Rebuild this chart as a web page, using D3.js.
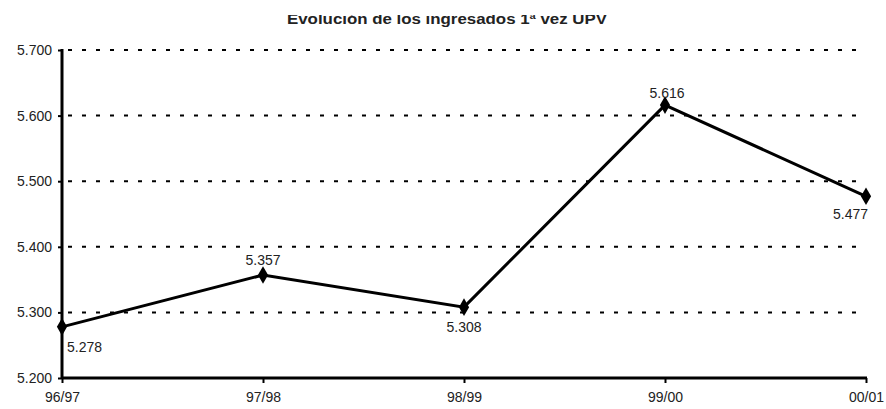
<!DOCTYPE html>
<html><head><meta charset="utf-8">
<script src="https://cdn.jsdelivr.net/npm/d3@7"></script>
<style>body{margin:0;background:#fff}svg{display:block}</style>
</head><body>
<script>
const categories = ["96/97","97/98","98/99","99/00","00/01"];
const values = [5.278, 5.357, 5.308, 5.616, 5.477];
const valueLabels = ["5.278","5.357","5.308","5.616","5.477"];
const yTicks = [5.2, 5.3, 5.4, 5.5, 5.6, 5.7];
const yTickLabels = ["5.200","5.300","5.400","5.500","5.600","5.700"];
const title = "Evolución de los ingresados 1ª vez UPV";

const W = 886, H = 409;
const svg = d3.select("body").append("svg").attr("width", W).attr("height", H);
const x = d3.scalePoint().domain(categories).range([62, 866]);
const y = d3.scaleLinear().domain([5.2, 5.7]).range([378, 50]);
const font = "'Liberation Sans', Arial, sans-serif";

// title (top clipped as in reference)
svg.append("clipPath").attr("id","tc").append("rect").attr("x",0).attr("y",15).attr("width",W).attr("height",20);
svg.append("text").attr("clip-path","url(#tc)")
  .attr("x", 447).attr("y", 24).attr("text-anchor","middle")
  .attr("font-family", font).attr("font-size", 14).attr("font-weight","bold").attr("fill","#222")
  .attr("textLength", 320).attr("lengthAdjust","spacingAndGlyphs")
  .text(title);

// grid
svg.append("g").selectAll("line").data(yTicks.slice(1)).join("line")
  .attr("x1", 68).attr("x2", 866).attr("y1", d=>y(d)).attr("y2", d=>y(d))
  .attr("stroke","#000").attr("stroke-width",2).attr("stroke-dasharray","4,10");

// y axis
const yAxis = d3.axisLeft(y).tickValues(yTicks).tickFormat((d,i)=>yTickLabels[i]).tickSize(4).tickPadding(6);
const gy = svg.append("g").attr("transform","translate(62,0)").call(yAxis);
gy.select(".domain").attr("stroke","#000").attr("stroke-width",3).attr("d","M0,"+(y(5.7)-1)+"V"+(y(5.2)+1));
gy.selectAll(".tick line").attr("stroke","#000").attr("stroke-width",2);
gy.selectAll(".tick text").attr("font-family",font).attr("font-size",14).attr("fill","#222");

// x axis
const xAxis = d3.axisBottom(x).tickSize(5).tickPadding(9);
const gx = svg.append("g").attr("transform","translate(0,378)").call(xAxis);
gx.select(".domain").attr("stroke","#000").attr("stroke-width",3).attr("d","M62,0H867");
gx.selectAll(".tick line").attr("stroke","#000").attr("stroke-width",2);
gx.selectAll(".tick text").attr("font-family",font).attr("font-size",14).attr("fill","#222");

// line
const pts = categories.map((c,i)=>({c, v: values[i], l: valueLabels[i], i}));
svg.append("path").datum(pts)
  .attr("d", d3.line().x(d=>x(d.c)).y(d=>y(d.v)))
  .attr("fill","none").attr("stroke","#000").attr("stroke-width",3);
svg.append("g").selectAll("path").data(pts).join("path")
  .attr("transform", d=>`translate(${x(d.c)},${y(d.v)})`)
  .attr("d", d3.symbol().type(d3.symbolDiamond).size(90))
  .attr("fill","#000");

// data labels
const lab = [
  {dx: 5, dy: 25, a: "start"},
  {dx: 0, dy: -10, a: "middle"},
  {dx: 0, dy: 25, a: "middle"},
  {dx: 2, dy: -7, a: "middle"},
  {dx: 2, dy: 23, a: "end"}
];
svg.append("g").selectAll("text").data(pts).join("text")
  .attr("x", d=>x(d.c)+lab[d.i].dx).attr("y", d=>y(d.v)+lab[d.i].dy)
  .attr("text-anchor", d=>lab[d.i].a)
  .attr("font-family",font).attr("font-size",14).attr("fill","#222")
  .text(d=>d.l);
</script>
</body></html>
